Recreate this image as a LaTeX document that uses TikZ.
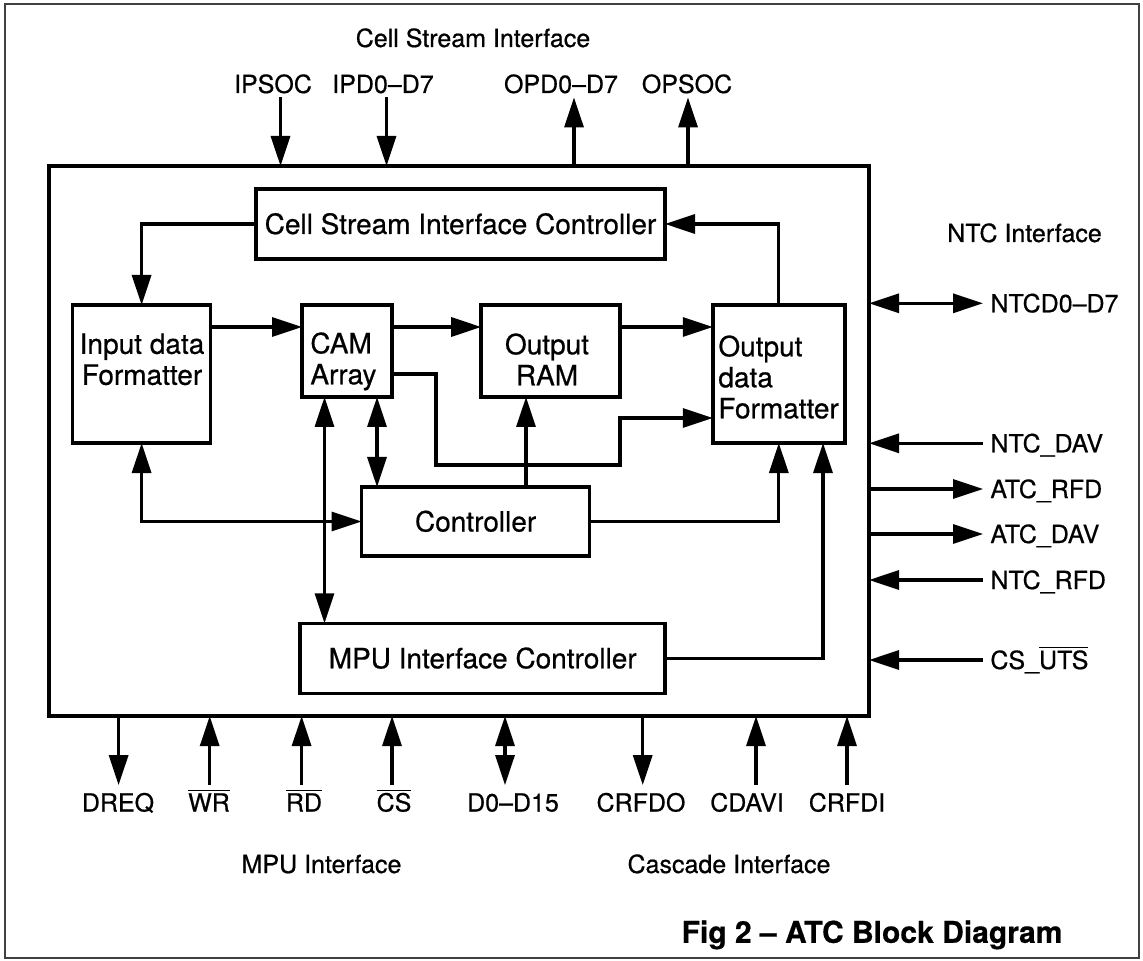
\documentclass[tikz,border=0pt]{standalone}
\usepackage{fontspec}
\setmainfont{TeX Gyre Heros}[FakeBold=0.6]
\usetikzlibrary{arrows.meta}
\newcommand{\ovl}[1]{\ensuremath{\overline{\hbox{#1}}}}
\begin{document}
\begin{tikzpicture}[x=0.5pt,y=-0.5pt,
  >={Triangle[length=15pt,width=9.5pt]},
  box/.style={draw, line width=1.8pt, rectangle, inner sep=0pt, outer sep=0pt},
  boxtxt/.style={font=\fontsize{14}{15.5}\selectfont, text height=10pt, text depth=0pt},
  mtext/.style={font=\fontsize{14}{15.5}\selectfont, inner sep=0pt},
  conn/.style={line width=1.6pt},
  sig/.style={font=\fontsize{12.5}{14}\selectfont, text height=9pt, text depth=0pt, inner sep=0pt},
  topsig/.style={sig, inner ysep=2pt},
  botsig/.style={sig, inner ysep=4pt},
  rsig/.style={sig, anchor=west, inner xsep=3.5pt},
  title/.style={font=\fontsize{15}{18}\selectfont\bfseries, text height=10.8pt, text depth=0pt, inner sep=0pt}
]
\useasboundingbox (0,0) rectangle (1143,961);
\draw[line width=1pt, black!75] (5,4) rectangle (1139,958);

% main box and inner blocks
\node[box, minimum width=410pt, minimum height=275pt] (main) at (459,441) {};
\node[box, boxtxt, minimum width=204.5pt, minimum height=35pt] (csic) at (460.5,224) {Cell Stream Interface Controller};
\node[box, minimum width=69pt, minimum height=69pt] (idf) at (141.6,374) {};
\node[box, minimum width=45pt, minimum height=46pt] (cam) at (347,351) {};
\node[box, minimum width=69.5pt, minimum height=46pt] (oram) at (550.7,351) {};
\node[box, minimum width=66pt, minimum height=69pt] (odf) at (778.8,374) {};
\node[box, boxtxt, minimum width=114pt, minimum height=34.5pt] (ctrl) at (475.6,521.5) {Controller};
\node[box, boxtxt, minimum width=182.5pt, minimum height=35pt] (mpu) at (482.7,658.3) {MPU Interface Controller};

\node[mtext, anchor=north, align=center] (idft) at (142,333) {Input data\\Formatter};
\node[mtext, anchor=north west, align=left] (camt) at (310,332) {CAM\\Array};
\node[mtext, anchor=north, align=center] (oramt) at (547,333) {Output\\RAM};
\node[mtext, anchor=north west, align=left] (odft) at (718,335) {Output\\data\\Formatter};

% internal connectors
\draw[conn,->] (csic.west) -| (idf.north);
\draw[conn,->] (odf.north) |- (csic.east);
\draw[conn,->] (idf.east |- 0,327) -- (cam.west |- 0,327);
\draw[conn,->] (cam.east |- 0,327) -- (oram.west |- 0,327);
\draw[conn,->] (oram.east |- 0,327) -- (odf.west |- 0,327);
\draw[conn,->] (cam.east |- 0,374) -- (436,374) -- (436,465) -- (620,465) -- (620,418) -- (odf.west |- 0,418);
\draw[conn,->] (526,0 |- ctrl.north) -- (526,0 |- oram.south);
\draw[conn,<->] (377,0 |- cam.south) -- (377,0 |- ctrl.north);
\draw[conn,<->] (324.5,0 |- cam.south) -- (324.5,0 |- mpu.north);
\draw[conn,<->] (idf.south) |- (ctrl.west);
\draw[conn,->] (ctrl.east) -| (odf.south);
\draw[conn,->] (mpu.east) -| (823,0 |- odf.south);

% top signals
\node[sig] (csi) at (473,38) {Cell Stream Interface};
\node[topsig] (ipsoc) at (273,84) {IPSOC};
\node[topsig] (ipd) at (383,84) {IPD0--D7};
\node[topsig] (opd) at (561,84) {OPD0--D7};
\node[topsig] (opsoc) at (687,84) {OPSOC};
\draw[conn,->] (ipsoc.south -| 280.5,0) -- (main.north -| 280.5,0);
\draw[conn,->] (ipd.south -| 386.5,0) -- (main.north -| 386.5,0);
\draw[conn,->] (main.north -| 574,0) -- (opd.south -| 574,0);
\draw[conn,->] (main.north -| 688,0) -- (opsoc.south -| 688,0);

% right signals
\node[sig] (ntci) at (1024.5,233) {NTC Interface};
\node[rsig] (ntcd) at (983,303.3) {NTCD0--D7};
\node[rsig] (ntcdav) at (983,443.3) {NTC\_DAV};
\node[rsig] (atcrfd) at (983,489) {ATC\_RFD};
\node[rsig] (atcdav) at (983,534) {ATC\_DAV};
\node[rsig] (ntcrfd) at (983,580) {NTC\_RFD};
\node[rsig] (csuts) at (983,660) {CS\_\ovl{UTS}};
\draw[conn,<->] (main.east |- ntcd.west) -- (ntcd.west);
\draw[conn,<-] (main.east |- ntcdav.west) -- (ntcdav.west);
\draw[conn,->] (main.east |- atcrfd.west) -- (atcrfd.west);
\draw[conn,->] (main.east |- atcdav.west) -- (atcdav.west);
\draw[conn,<-] (main.east |- ntcrfd.west) -- (ntcrfd.west);
\draw[conn,<-] (main.east |- csuts.west) -- (csuts.west);

% bottom signals
\node[botsig] (dreq) at (118,802.5) {DREQ};
\node[botsig] (wr) at (209,802.5) {\ovl{WR}};
\node[botsig] (rd) at (304,802.5) {\ovl{RD}};
\node[botsig] (cs) at (394,802.5) {\ovl{CS}};
\node[botsig] (dbus) at (513,802.5) {D0--D15};
\node[botsig] (crfdo) at (641,802.5) {CRFDO};
\node[botsig] (cdavi) at (747,802.5) {CDAVI};
\node[botsig] (crfdi) at (847,802.5) {CRFDI};
\draw[conn,->] (main.south -| 118.6,0) -- (dreq.north -| 118.6,0);
\draw[conn,<-] (main.south -| 209.7,0) -- (wr.north -| 209.7,0);
\draw[conn,<-] (main.south -| 301.6,0) -- (rd.north -| 301.6,0);
\draw[conn,<-] (main.south -| 392,0) -- (cs.north -| 392,0);
\draw[conn,<->] (main.south -| 505,0) -- (dbus.north -| 505,0);
\draw[conn,->] (main.south -| 642.7,0) -- (crfdo.north -| 642.7,0);
\draw[conn,<-] (main.south -| 756,0) -- (cdavi.north -| 756,0);
\draw[conn,<-] (main.south -| 847,0) -- (crfdi.north -| 847,0);

\node[sig] (mpui) at (321.5,864) {MPU Interface};
\node[sig] (casi) at (729,864) {Cascade Interface};
\node[title] (fig) at (872,932) {Fig 2 -- ATC Block Diagram};
\end{tikzpicture}
\end{document}
